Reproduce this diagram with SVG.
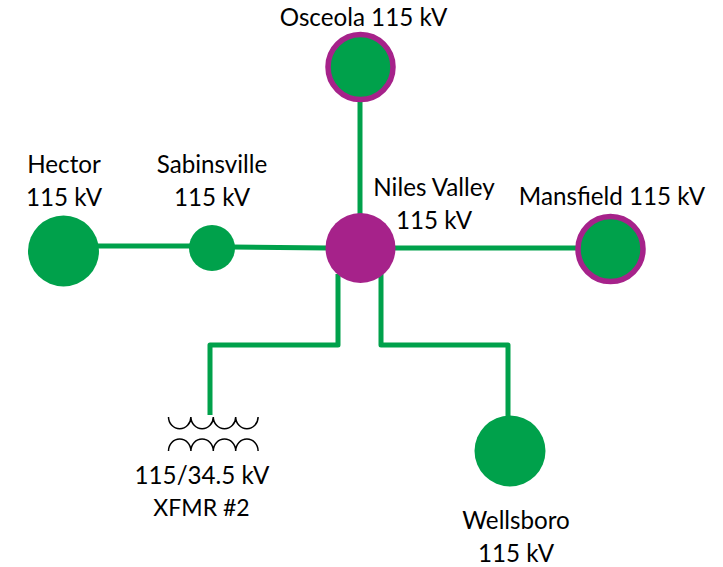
<svg xmlns="http://www.w3.org/2000/svg" width="723" height="567" viewBox="0 0 723 567">
<style>
.w{fill:none;stroke:#00a14b;stroke-width:5;stroke-linejoin:round}
.g{fill:#00a14b}
.p{fill:#a6228a}
.r{fill:#00a14b;stroke:#a6228a;stroke-width:5.5}
.c{fill:none;stroke:#000;stroke-width:1.5}
text{font-family:Lato,"Liberation Sans",sans-serif;font-size:24.2px;fill:#000;text-anchor:middle}
</style>
<rect width="723" height="567" fill="#fff"/>
<g id="connectors">
<path class="w" d="M360 100V215"/>
<path class="w" d="M96 246H190"/>
<path class="w" d="M232 247L328 248"/>
<path class="w" d="M394 248H578"/>
<path class="w" d="M338 274V345H210V415"/>
<path class="w" d="M381 274V345H508V416"/>
</g>
<g id="osceola"><circle class="r" cx="360.500" cy="67" r="32.500"/><text x="363.500" y="26">Osceola 115 kV</text></g>
<g id="hector"><circle class="g" cx="63.500" cy="251" r="35.500"/><text x="64" y="173">Hector</text><text x="64" y="206">115 kV</text></g>
<g id="sabinsville"><circle class="g" cx="212" cy="248" r="23"/><text x="212" y="173">Sabinsville</text><text x="212" y="206">115 kV</text></g>
<g id="niles-valley"><circle class="p" cx="360.500" cy="248" r="35"/><text x="434" y="196">Niles Valley</text><text x="434" y="229">115 kV</text></g>
<g id="mansfield"><circle class="r" cx="610.500" cy="249" r="32.500"/><text x="612" y="205">Mansfield 115 kV</text></g>
<g id="wellsboro"><circle class="g" cx="510" cy="451" r="35.500"/><text x="516" y="529">Wellsboro</text><text x="516" y="562">115 kV</text></g>
<g id="xfmr">
<path class="c" d="M168.500 417a11.200 11.800 0 0 0 22.400 0a11.200 11.800 0 0 0 22.400 0a11.200 11.800 0 0 0 22.400 0a11.200 11.800 0 0 0 22.400 0"/>
<path class="c" d="M168.500 451a11.200 12 0 0 1 22.400 0a11.200 12 0 0 1 22.400 0a11.200 12 0 0 1 22.400 0a11.200 12 0 0 1 22.400 0"/>
<text x="202" y="484">115/34.5 kV</text><text x="201.500" y="516" style="font-size:23px">XFMR #2</text>
</g>
</svg>
